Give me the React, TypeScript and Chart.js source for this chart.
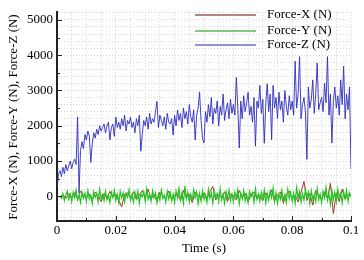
import React, { useEffect, useRef } from "react";
import { Chart, registerables } from "chart.js";

Chart.register(...registerables);

// Sampling grid (s)
const Z_STEP = 0.0005;
const X_START = 0.001;
const X_STEP = 0.001;
const Y_START = 0.001;
const Y_STEP = 0.0005;

// Force-Z (N), t = 0 .. 0.1 s every 0.0005 s
const forceZ = [
  250, 620, 730, 560, 820, 640, 900, 720, 860, 1000, 780, 960, 1050, 900, 2250, 100, 1300, 1550, 1350, 1750,
  1600, 1850, 1700, 960, 1500, 1800, 1650, 1900, 1750, 2000, 1850, 1950, 2050, 1800, 2000, 2100, 1600, 1950, 2050, 1700,
  2250, 1950, 2100, 1900, 2200, 2000, 2300, 1850, 2150, 2050, 2250, 1950, 2100, 1800, 2200, 2000, 2300, 1280, 1750, 2150,
  2000, 2250, 1900, 2350, 2050, 2200, 2100, 2400, 2690, 1950, 2300, 2150, 2000, 2250, 1900, 2350, 2100, 2050, 2200, 1735,
  2300, 2000, 2450, 2150, 2350, 1950, 2500, 2200, 2400, 2050, 2600, 2250, 2100, 2450, 1600, 2300, 2500, 2960, 2150, 1640,
  1510, 2400, 2100, 2600, 2250, 2800, 2050, 2500, 2350, 2700, 2000, 2550, 2300, 2900, 2150, 2450, 2650, 2200, 2750, 2350,
  2600, 2300, 3370, 2500, 1370, 2700, 2200, 2850, 2400, 2650, 2950, 2300, 2550, 2100, 2800, 1420, 2700, 2500, 3145, 2350,
  2750, 1500, 2600, 3190, 2400, 2900, 1600, 3145, 2500, 2800, 2200, 2950, 2450, 2700, 2100, 3000, 2550, 2300, 2850, 2450,
  2700, 2300, 3830, 2500, 2900, 3960, 2200, 2600, 2800, 2400, 1050, 3100, 2500, 2750, 3300, 2350, 2900, 3780, 2450, 2650,
  2800, 2400, 3200, 2650, 3960, 2300, 2900, 1510, 2700, 3100, 2500, 2850, 2300, 3300, 2600, 3690, 2200, 2900, 2450, 3100,
  780,
];

// Force-X (N), t = 0.001 .. 0.100 s every 0.001 s
const forceX = [
  -20, 40, -60, 80, -30, 100, -80, 150, 20, -40,
  60, -100, 120, 30, -150, 80, -50, 140, -20, 60,
  -120, -300, 50, 100, -60, 130, -90, 40, 160, -30,
  200, -80, 60, -140, 110, 20, -60, 150, -100, 40,
  80, -120, 170, -40, 60, -180, 120, 30, -90, 100,
  -60, 140, 280, -100, 50, -40, 130, -150, 70, 20,
  -110, 160, -30, 90, -160, 60, 120, -70, 30, -120,
  100, -50, 180, -140, 40, 120, -200, 60, 150, -80,
  30, -160, 110, 420, -120, 80, -250, 160, 40, -100,
  130, -60, 370, -490, 90, -150, 200, -80, 60, 20,
];

// Force-Y (N), t = 0.001 .. 0.100 s every 0.0005 s
const forceY = [
  0, -60, 80, -120, 40, 150, -90, 60, -150, 110, -40, 180, -100, 30, -180, 120, -60, 90,
  -140, 160, -80, 40, -200, 130, -30, 90, -160, 200, -70, 50, -130, 150, -100, 20, -180, 110, -40, 170,
  -120, 60, -190, 140, -50, 100, -150, 80, -30, 190, -110, 40, -170, 120, -60, 150, -200, 70, -20, 130,
  -150, 210, -90, 50, -140, 160, -40, 100, -190, 70, -110, 180, -60, 30, -170, 140, -80, 110, -130, 60,
  -180, 150, -50, 230, -120, 90, -200, 300, -70, 120, -160, 60, -100, 190, -40, 130, -210, 80, -140, 170,
  -90, 40, -170, 200, -60, 110, -190, 150, -30, 80, -150, 220, -110, 50, -200, 130, -70, 180, -120, 60,
  -160, 120, -40, 190, -210, 90, -80, 160, -130, 50, -180, 140, -20, 100, -170, 210, -90, 70, -140, 120,
  -60, 180, -190, 80, -110, 150, -40, 230, -150, 100, -200, 60, -90, 170, -130, 40, -180, 200, -70, 110,
  -140, 90, -200, 250, -60, 130, -170, 70, -110, 190, -30, 120, -210, 160, -80, 50, -150, 220, -100, 60,
  -180, 140, -50, 260, -120, 80, -230, 170, -90, 110, -160, 200, -40, 90, -190, 130, -70, 180, -140, 100,
  -20,
];

const seriesLabels = ["Force-X (N)", "Force-Y (N)", "Force-Z (N)"];
const xTickLabels = ["0", "0.02", "0.04", "0.06", "0.08", "0.1"];
const yTickLabels = ["0", "1000", "2000", "3000", "4000", "5000"];
const xTitle = "Time (s)";
const yTitle = "Force-X (N), Force-Y (N), Force-Z (N)";

const FONT = "'Liberation Serif', 'Times New Roman', serif";
const lineColors = ["#a8352b", "#22c422", "rgba(45,45,190,0.9)"];
const legendColors = ["#9a5c5c", "#58b858", "#6e6ec8"];

const toPoints = (vals: number[], start: number, step: number) =>
  vals.map((v, i) => ({ x: +(start + i * step).toFixed(5), y: v }));

const isMult = (v: number, m: number) => Math.abs(v / m - Math.round(v / m)) < 1e-6;

export default function App() {
  const ref = useRef<HTMLCanvasElement | null>(null);

  useEffect(() => {
    if (!ref.current) return;

    const decor = {
      id: "decor",
      afterDraw(chart: any) {
        const ctx = chart.ctx as CanvasRenderingContext2D;
        const xs = chart.scales.x;
        const ys = chart.scales.y;
        const ca = chart.chartArea;
        ctx.save();
        ctx.strokeStyle = "#222";
        ctx.lineWidth = 1;
        // inward ticks, left axis
        for (let v = 0; v <= 5000; v += 500) {
          const y = Math.round(ys.getPixelForValue(v)) + 0.5;
          const len = v % 1000 === 0 ? 5 : 3;
          ctx.beginPath();
          ctx.moveTo(ca.left, y);
          ctx.lineTo(ca.left + len, y);
          ctx.stroke();
        }
        // inward ticks, bottom axis
        for (let i = 0; i <= 10; i++) {
          const v = i * 0.01;
          const x = Math.round(xs.getPixelForValue(v)) + 0.5;
          const len = i % 2 === 0 ? 5 : 3;
          ctx.beginPath();
          ctx.moveTo(x, ca.bottom);
          ctx.lineTo(x, ca.bottom - len);
          ctx.stroke();
        }
        // y title
        ctx.fillStyle = "#000";
        ctx.font = `13px ${FONT}`;
        ctx.textAlign = "center";
        ctx.textBaseline = "middle";
        ctx.translate(14, 117);
        ctx.rotate(-Math.PI / 2);
        ctx.fillText(yTitle, 0, 0);
        ctx.setTransform(1, 0, 0, 1, 0, 0);
        // legend
        ctx.textAlign = "left";
        ctx.textBaseline = "middle";
        const rows = [15, 30.5, 45];
        seriesLabels.forEach((lab, i) => {
          const y = rows[i];
          ctx.strokeStyle = legendColors[i];
          ctx.lineWidth = 1.5;
          ctx.beginPath();
          ctx.moveTo(195, Math.round(y));
          ctx.lineTo(256, Math.round(y));
          ctx.stroke();
          ctx.fillStyle = "#000";
          ctx.fillText(lab, 267, y);
        });
        ctx.restore();
      },
    };

    const chart = new Chart(ref.current, {
      type: "line",
      data: {
        datasets: [
          {
            label: seriesLabels[0],
            data: toPoints(forceX, X_START, X_STEP),
            borderColor: lineColors[0],
            borderWidth: 1,
            pointRadius: 0,
            order: 3,
          },
          {
            label: seriesLabels[1],
            data: toPoints(forceY, Y_START, Y_STEP),
            borderColor: lineColors[1],
            borderWidth: 1.2,
            pointRadius: 0,
            order: 2,
          },
          {
            label: seriesLabels[2],
            data: toPoints(forceZ, 0, Z_STEP),
            borderColor: lineColors[2],
            borderWidth: 1,
            pointRadius: 0,
            order: 1,
          },
        ],
      },
      options: {
        animation: false,
        responsive: false,
        devicePixelRatio: 1,
        layout: { padding: { top: 3, right: 13, left: 0, bottom: 0 } },
        plugins: { legend: { display: false }, tooltip: { enabled: false } },
        elements: { line: { tension: 0 } },
        scales: {
          x: {
            type: "linear",
            min: 0,
            max: 0.1,
            afterFit: (s: any) => {
              s.height = 39;
            },
            ticks: {
              stepSize: 0.005,
              autoSkip: false,
              maxRotation: 0,
              padding: 2,
              color: "#000",
              font: { family: FONT, size: 13 },
              callback: (v: any) => {
                const n = Number(v);
                if (!isMult(n, 0.02)) return "";
                return xTickLabels[Math.round(n / 0.02)];
              },
            },
            grid: { color: "#d4d4d4", lineWidth: 1, drawTicks: false },
            border: { display: true, color: "#222", width: 2, dash: [1, 2] },
            title: {
              display: true,
              text: xTitle,
              color: "#000",
              font: { family: FONT, size: 13 },
              padding: { top: 0, bottom: 4 },
            },
          },
          y: {
            type: "linear",
            min: -700,
            max: 5230,
            afterFit: (s: any) => {
              s.width = 57;
            },
            ticks: {
              stepSize: 200,
              includeBounds: false,
              autoSkip: false,
              padding: 4,
              color: "#000",
              font: { family: FONT, size: 13 },
              callback: (v: any) => {
                const n = Number(v);
                if (n < 0 || n % 1000 !== 0) return "";
                return yTickLabels[n / 1000];
              },
            },
            grid: { color: "#d4d4d4", lineWidth: 1, drawTicks: false },
            border: { display: true, color: "#222", width: 2, dash: [1, 2] },
          },
        },
      },
      plugins: [decor],
    } as any);

    return () => chart.destroy();
  }, []);

  return (
    <div style={{ position: "absolute", left: 0, top: 0, width: 364, height: 260, background: "#fff" }}>
      <canvas ref={ref} width={364} height={260} />
    </div>
  );
}
